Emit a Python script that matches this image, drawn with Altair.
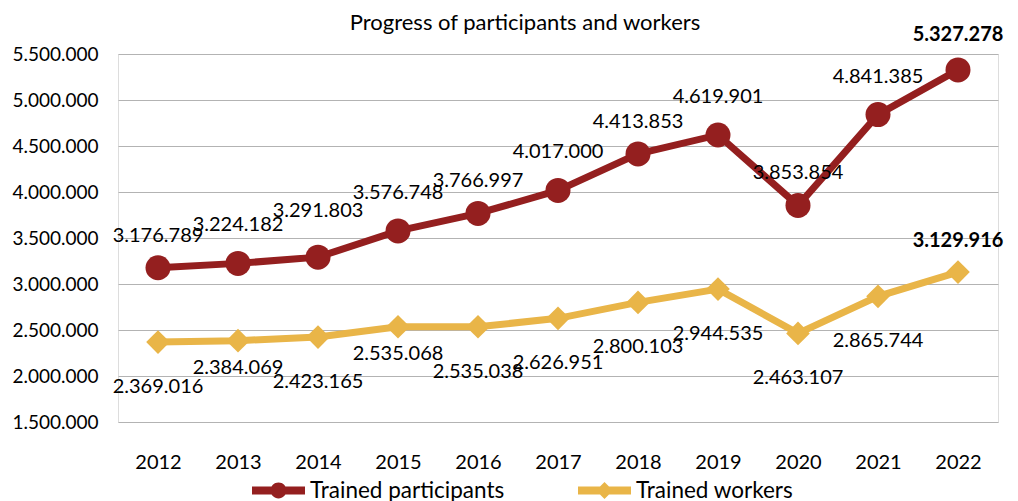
import altair as alt
import pandas as pd

years = ["2012", "2013", "2014", "2015", "2016", "2017", "2018", "2019", "2020", "2021", "2022"]
participants = [3176789, 3224182, 3291803, 3576748, 3766997, 4017000, 4413853, 4619901, 3853854, 4841385, 5327278]
workers = [2369016, 2384069, 2423165, 2535068, 2535038, 2626951, 2800103, 2944535, 2463107, 2865744, 3129916]
series_names = ["Trained participants", "Trained workers"]
colors = ["#941F1F", "#E9B548"]
y_ticks = [1500000, 2000000, 2500000, 3000000, 3500000, 4000000, 4500000, 5000000, 5500000]
title_text = "Progress of participants and workers"
FONT = "Lato"


def fmt(v):
    return f"{v:,}".replace(",", ".")


rows = []
for i, yr in enumerate(years):
    for name, vals in zip(series_names, [participants, workers]):
        rows.append({
            "year": yr,
            "series": name,
            "legend_series": name,
            "value": vals[i],
            "label": fmt(vals[i]),
            "last": i == len(years) - 1,
        })
df = pd.DataFrame(rows)

x = alt.X("year:O", sort=years, title=None,
          scale=alt.Scale(padding=0.5),
          axis=alt.Axis(labelAngle=0, ticks=False, domain=False, labelPadding=30,
                        labelFontSize=20, labelColor="#000000", grid=False, labelFont=FONT))
y = alt.Y("value:Q", title=None,
          scale=alt.Scale(domain=[1500000, 5500000], nice=False, zero=False),
          axis=alt.Axis(values=y_ticks,
                        labelExpr="replace(format(datum.value, ','), regexp(',', 'g'), '.')",
                        ticks=False, domain=False, labelPadding=20, grid=True,
                        gridColor="#b3b3b3", gridWidth=1, labelFontSize=19,
                        labelColor="#000000", labelFont=FONT))

color_scale = alt.Scale(domain=series_names, range=colors)
base = alt.Chart(df).transform_calculate(
    yr="toNumber(datum.year)",
    even="toNumber(datum.year) % 2 == 0",
)

lines = base.mark_line(strokeWidth=7).encode(
    x=x, y=y, color=alt.Color("series:N", scale=color_scale, legend=None)
)

points = base.mark_point(filled=True, opacity=1).encode(
    x=x, y=y,
    color=alt.Color("series:N", scale=color_scale, legend=None),
    shape=alt.Shape("series:N", scale=alt.Scale(domain=series_names, range=["circle", "diamond"]), legend=None),
    size=alt.Size("series:N", scale=alt.Scale(domain=series_names, range=[625, 560]), legend=None),
)


def label_layer(cond, dy, bold=False):
    return base.transform_filter(cond).mark_text(
        dy=dy, fontSize=20, font=FONT, color="#000000",
        fontWeight="bold" if bold else "normal"
    ).encode(x=x, y=y, text="label:N")


is_p = alt.datum.series == series_names[0]
is_w = alt.datum.series == series_names[1]
last = alt.datum.last
even = alt.datum.even
early = alt.datum.yr <= 2016
y2014 = alt.datum.yr == 2014

p_even = label_layer(is_p & ~last & even & ~y2014, -32)
p_2014 = label_layer(is_p & y2014, -46)
p_odd = label_layer(is_p & ~last & ~even, -38)
p_last = label_layer(is_p & last, -35, bold=True)
w_high = label_layer(is_w & early & ~even, 27)
w_low = label_layer(is_w & ~last & ~(early & ~even), 45)
w_last = label_layer(is_w & last, -31, bold=True)

title_layer = alt.Chart(pd.DataFrame({"t": [title_text]})).mark_text(
    fontSize=22, font=FONT, color="#000000", baseline="middle", align="center"
).encode(x=alt.value(407), y=alt.value(-31), text="t:N")

path_circle = "M-1,-0.15H1V0.15H-1Z M0.3,0A0.3,0.3,0,1,1,-0.3,0A0.3,0.3,0,1,1,0.3,0Z"
path_diamond = "M-1,-0.15H1V0.15H-1Z M-0.32,0L0,-0.32L0.32,0L0,0.32Z"

legend_args = dict(
    title=None, orient="none", legendX=134, legendY=410, direction="horizontal",
    symbolSize=2809, symbolOpacity=1, symbolStrokeWidth=0, labelFontSize=22.5,
    labelOffset=5, columnPadding=73, labelFont=FONT, labelColor="#000000",
    labelLimit=400,
)

legend_layer = base.mark_point(filled=True, opacity=0).encode(
    x=x, y=y,
    color=alt.Color("legend_series:N", scale=alt.Scale(domain=series_names, range=colors),
                    legend=alt.Legend(**legend_args)),
    shape=alt.Shape("legend_series:N", scale=alt.Scale(domain=series_names, range=[path_circle, path_diamond]),
                    legend=alt.Legend(**legend_args)),
)

chart = alt.layer(
    lines, points, p_even, p_2014, p_odd, p_last, w_high, w_low, w_last, legend_layer, title_layer
).resolve_scale(
    color="independent", shape="independent"
).properties(
    width=880, height=368,
    autosize=alt.AutoSizeParams(type="none"),
    padding={"left": 110, "top": 46, "right": 12, "bottom": 79},
).configure_view(stroke=None).configure(font=FONT)

chart.save("out.html", embed_options={"renderer": "svg", "actions": False})
